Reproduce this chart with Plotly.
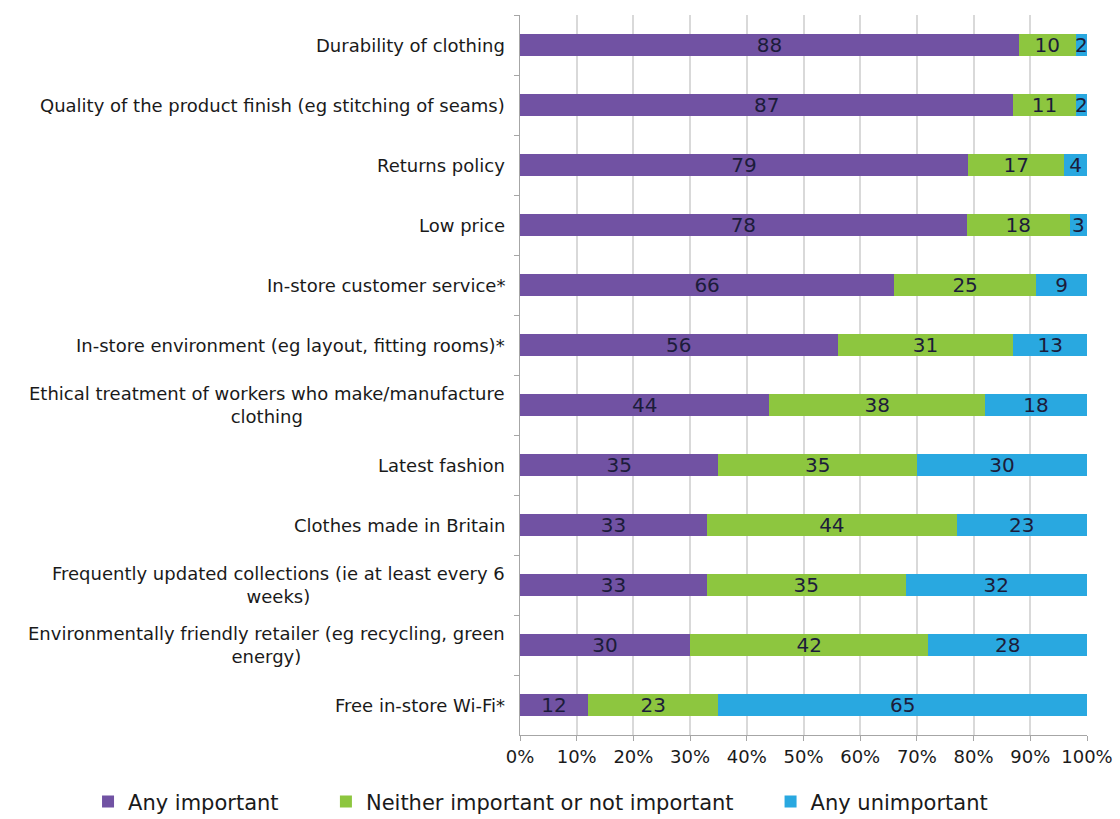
import plotly.graph_objects as go

categories = [
    "Durability of clothing",
    "Quality of the product finish (eg stitching of seams)",
    "Returns policy",
    "Low price",
    "In-store customer service*",
    "In-store environment (eg layout, fitting rooms)*",
    "Ethical treatment of workers who make/manufacture<br>clothing",
    "Latest fashion",
    "Clothes made in Britain",
    "Frequently updated collections (ie at least every 6<br>weeks)",
    "Environmentally friendly retailer (eg recycling, green<br>energy)",
    "Free in-store Wi-Fi*",
]
any_important = [88, 87, 79, 78, 66, 56, 44, 35, 33, 33, 30, 12]
neither = [10, 11, 17, 18, 25, 31, 38, 35, 44, 35, 42, 23]
any_unimportant = [2, 2, 4, 3, 9, 13, 18, 30, 23, 32, 28, 65]

series_names = ["Any important", "Neither important or not important", "Any unimportant"]
series_values = [any_important, neither, any_unimportant]
colors = ["#7152A3", "#8DC63F", "#29A8E0"]
legends = ["legend", "legend2", "legend3"]
legend_x = [0.0786, 0.291, 0.688]

FONT = "DejaVu Sans"
TXT = "#1a1a1a"
fig = go.Figure()
for name, vals, col, lg in zip(series_names, series_values, colors, legends):
    fig.add_trace(go.Bar(
        y=categories, x=vals, name=name, orientation="h",
        marker=dict(color=col, line=dict(width=0)),
        text=[str(v) for v in vals], textposition="inside", textangle=0,
        insidetextanchor="middle", constraintext="none",
        textfont=dict(family=FONT, size=20, color="#1c1c3a"),
        legend=lg, showlegend=True,
    ))

legend_cfg = {}
for lg, lx in zip(legends, legend_x):
    legend_cfg[lg] = dict(orientation="h", xref="container", yref="container",
                          x=lx, y=0.021, xanchor="left", yanchor="middle",
                          font=dict(family=FONT, size=21, color=TXT), itemwidth=30,
                          bgcolor="rgba(0,0,0,0)", visible=True)

# category labels as annotations centred line-by-line, anchored at the axis
for cat in categories:
    fig.add_annotation(x=0, xref="paper", y=cat, yref="y", text=cat,
                       showarrow=False, xanchor="right", yanchor="middle",
                       align="center", xshift=-13,
                       font=dict(family=FONT, size=18, color=TXT))

fig.update_layout(
    barmode="stack", barnorm="percent", bargap=0.62,
    width=1120, height=819, showlegend=True,
    margin=dict(l=520, r=33, t=15, b=84, autoexpand=False),
    plot_bgcolor="white", paper_bgcolor="white",
    font=dict(family=FONT, size=13, color=TXT),
    uniformtext=dict(minsize=20, mode="show"),
    **legend_cfg,
)
fig.update_xaxes(
    range=[0, 100], dtick=10, ticksuffix="%",
    showgrid=True, gridcolor="#d9d9d9", gridwidth=2,
    showline=True, linecolor="#a6a6a6", linewidth=1,
    ticks="outside", ticklen=5, tickcolor="#a6a6a6",
    tickfont=dict(size=18, color=TXT), zeroline=False,
)
fig.update_yaxes(
    autorange="reversed", tickson="boundaries", showticklabels=False,
    showline=True, linecolor="#a6a6a6", linewidth=1,
    ticks="outside", ticklen=5, tickcolor="#a6a6a6",
    showgrid=False,
)

fig.write_html("out.html")
